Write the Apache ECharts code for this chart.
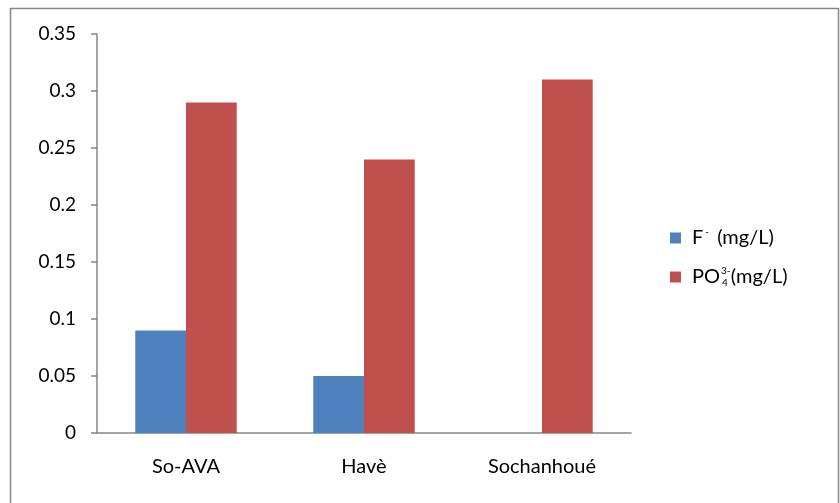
<!DOCTYPE html>
<html>
<head>
<meta charset="utf-8">
<script src="https://cdn.jsdelivr.net/npm/echarts@6/dist/echarts.min.js"></script>
<style>
  html, body { margin: 0; padding: 0; background: #fff; }
  #chart { width: 840px; height: 503px; }
</style>
</head>
<body>
<div id="chart"></div>
<script>
// Sampling sites and measured concentrations (mg/L)
const sites = ['So-AVA', 'Havè', 'Sochanhoué'];
const fluoride = [0.09, 0.05, 0];
const phosphate = [0.29, 0.24, 0.31];
const seriesNames = ['F', 'PO4'];

const FONT = 'Lato, "Open Sans", sans-serif';
const axisGrey = '#868686';

const chart = echarts.init(document.getElementById('chart'));
chart.setOption({
  animation: false,
  textStyle: { fontFamily: FONT },
  graphic: [{
    type: 'rect',
    shape: { x: 10.5, y: 8.5, width: 828, height: 500 },
    style: { fill: 'none', stroke: axisGrey, lineWidth: 1.5 },
    silent: true
  }],
  grid: { left: 97, right: 209, top: 34, bottom: 70 },
  legend: {
    orient: 'vertical',
    left: 670,
    top: 227,
    padding: 0,
    itemWidth: 11,
    itemHeight: 11,
    itemGap: 18,
    icon: 'rect',
    data: seriesNames,
    formatter: function (name) {
      if (name === 'F') return '{t0|F}{sup|-}{t| (mg/L)}';
      return '{t0|PO}{supz|3-}{sub|4}{t|(mg/L)}';
    },
    textStyle: {
      color: '#000',
      rich: {
        t0: { fontSize: 20, fontFamily: FONT, color: '#000', lineHeight: 22, padding: [0, 0, 0, 6] },
        t: { fontSize: 20, fontFamily: FONT, color: '#000', lineHeight: 22 },
        sup: { fontSize: 10, fontFamily: FONT, color: '#000', verticalAlign: 'top', padding: [0, 3, 0, 2] },
        supz: { fontSize: 10, fontFamily: FONT, color: '#000', verticalAlign: 'top', width: 0, padding: [0, 0, 0, 1] },
        sub: { fontSize: 10, fontFamily: FONT, color: '#000', verticalAlign: 'bottom', padding: [0, 3, 0, 1] }
      }
    }
  },
  xAxis: {
    type: 'category',
    data: sites,
    axisLine: { lineStyle: { color: axisGrey, width: 1.5 } },
    axisTick: { length: 6, lineStyle: { color: axisGrey, width: 1.5 } },
    axisLabel: { color: '#000', fontSize: 20, margin: 24, fontFamily: FONT }
  },
  yAxis: {
    type: 'value',
    min: 0,
    max: 0.35,
    interval: 0.05,
    splitLine: { show: false },
    axisLine: { show: true, lineStyle: { color: axisGrey, width: 1.5 } },
    axisTick: { show: true, length: 6, lineStyle: { color: axisGrey, width: 1.5 } },
    axisLabel: { color: '#000', fontSize: 19, margin: 21, fontFamily: FONT }
  },
  series: [
    {
      name: seriesNames[0],
      type: 'bar',
      data: fluoride,
      barGap: '0%',
      barCategoryGap: '43%',
      itemStyle: { color: '#4F81BD' }
    },
    {
      name: seriesNames[1],
      type: 'bar',
      data: phosphate,
      itemStyle: { color: '#C0504D' }
    }
  ]
});
</script>
</body>
</html>
